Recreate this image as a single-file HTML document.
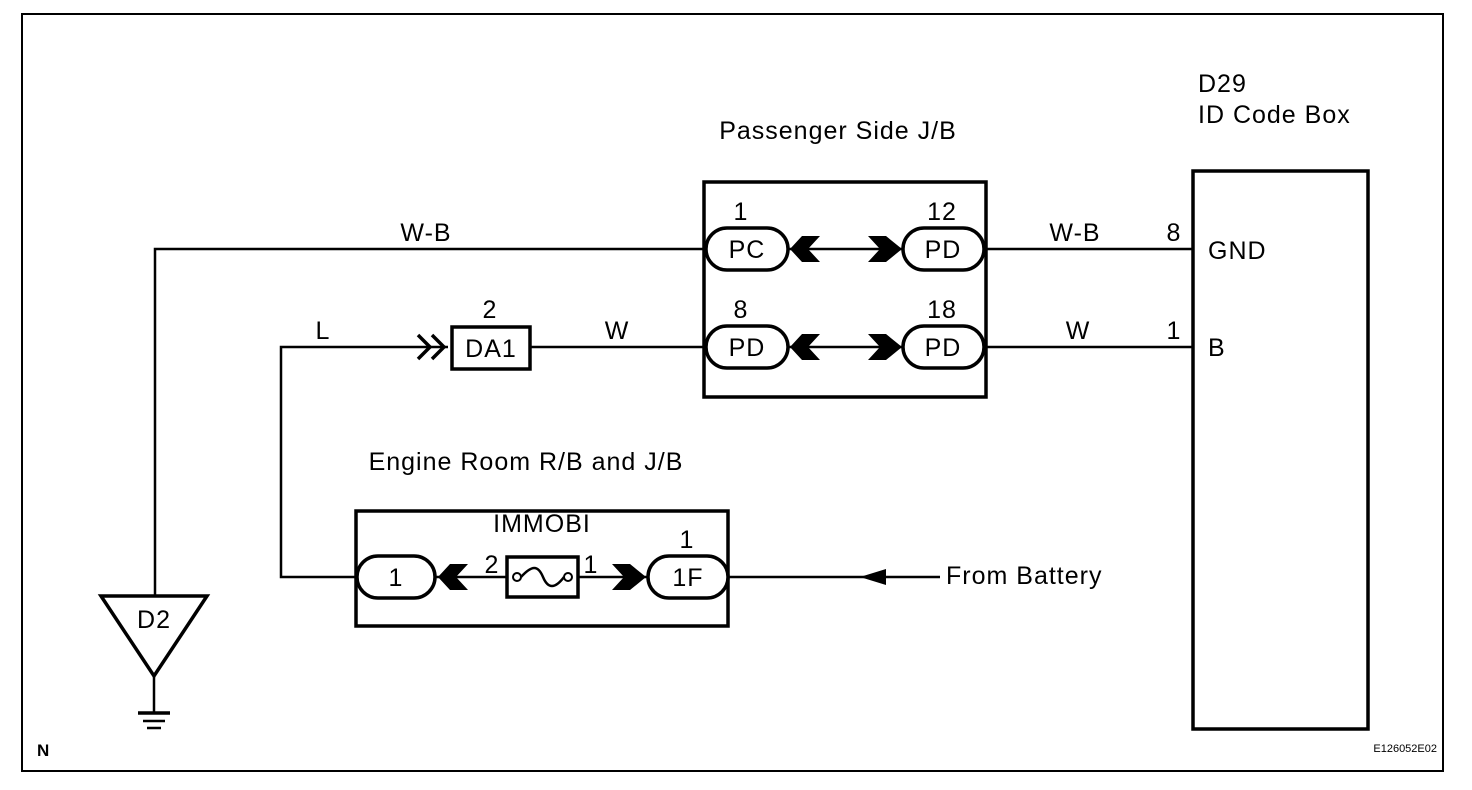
<!DOCTYPE html>
<html><head><style>
html,body{margin:0;padding:0;background:#fff;}
svg{display:block;}
text{font-family:"Liberation Sans",Arial,sans-serif;fill:#000;}
</style></head><body>
<svg width="1472" height="790" viewBox="0 0 1472 790" xmlns="http://www.w3.org/2000/svg">
<rect x="0" y="0" width="1472" height="790" fill="#fff"/>
<rect x="22" y="14" width="1421" height="757" fill="none" stroke="#000" stroke-width="2"/>

<g stroke="#000" fill="none">
<polyline points="706,249 155,249 155,596" stroke-width="2.5"/>
<line x1="984" y1="249" x2="1193" y2="249" stroke-width="2.5"/>
<line x1="530" y1="347" x2="706" y2="347" stroke-width="2.5"/>
<line x1="984" y1="347" x2="1193" y2="347" stroke-width="2.5"/>
<polyline points="448,347 281,347 281,577 357,577" stroke-width="2.5"/>
<line x1="728" y1="577" x2="940" y2="577" stroke-width="2.5"/>
<line x1="788" y1="249" x2="903" y2="249" stroke-width="2.5"/>
<line x1="788" y1="347" x2="903" y2="347" stroke-width="2.5"/>
<line x1="435" y1="577" x2="507" y2="577" stroke-width="2.5"/>
<line x1="578" y1="577" x2="648" y2="577" stroke-width="2.5"/>

<rect x="704" y="182" width="282" height="215" stroke-width="3.5"/>
<rect x="706" y="228" width="82" height="42" rx="21" stroke-width="3.5" fill="#fff"/>
<rect x="903" y="228" width="81" height="42" rx="21" stroke-width="3.5" fill="#fff"/>
<rect x="706" y="326" width="82" height="42" rx="21" stroke-width="3.5" fill="#fff"/>
<rect x="903" y="326" width="81" height="42" rx="21" stroke-width="3.5" fill="#fff"/>

<rect x="1193" y="171" width="175" height="558" stroke-width="3.5"/>

<rect x="452" y="327" width="78" height="42" stroke-width="3.5" fill="#fff"/>
<polyline points="418,335 430,347 418,359" stroke-width="3.5"/>
<polyline points="432,335 444,347 432,359" stroke-width="3.5"/>

<rect x="356" y="511" width="372" height="115" stroke-width="3.5"/>
<rect x="357" y="556" width="78" height="42" rx="21" stroke-width="3.5" fill="#fff"/>
<rect x="648" y="556" width="80" height="42" rx="21" stroke-width="3.5" fill="#fff"/>
<rect x="507" y="557" width="71" height="40" stroke-width="3.5" fill="#fff"/>
<circle cx="517" cy="577" r="4" stroke-width="2"/>
<circle cx="568" cy="577" r="4" stroke-width="2"/>
<path d="M521,577 C532,565 538,565 543,577 S555,589 564,577" stroke-width="2.5"/>

<polygon points="101,596 207,596 154,676" stroke-width="3.5"/>
<line x1="154" y1="676" x2="154" y2="713" stroke-width="2.5"/>
<line x1="138" y1="713" x2="170" y2="713" stroke-width="3.5"/>
<line x1="143" y1="721" x2="165" y2="721" stroke-width="2.5"/>
<line x1="147" y1="728" x2="161" y2="728" stroke-width="2.5"/>
</g>

<g fill="#000">
<polygon points="790,249 802,236 820,236 808,249 820,262 802,262"/>
<polygon points="868,236 886,236 902,249 886,262 868,262 880,249"/>
<polygon points="790,347 802,334 820,334 808,347 820,360 802,360"/>
<polygon points="868,334 886,334 902,347 886,360 868,360 880,347"/>
<polygon points="438,577 450,564 468,564 456,577 468,590 450,590"/>
<polygon points="612,564 630,564 646,577 630,590 612,590 624,577"/>
<polygon points="860,577 886,569 886,585"/>
</g>

<g font-size="25" letter-spacing="1">
<text x="838" y="139" text-anchor="middle">Passenger Side J/B</text>
<text x="1198" y="92">D29</text>
<text x="1198" y="123">ID Code Box</text>
<text x="1208" y="259">GND</text>
<text x="1208" y="356">B</text>
<text x="526" y="470" text-anchor="middle">Engine Room R/B and J/B</text>
<text x="946" y="584">From Battery</text>
<text x="542" y="532" text-anchor="middle">IMMOBI</text>
<text x="426" y="241" text-anchor="middle">W-B</text>
<text x="1075" y="241" text-anchor="middle">W-B</text>
<text x="617" y="339" text-anchor="middle">W</text>
<text x="1078" y="339" text-anchor="middle">W</text>
<text x="323" y="339" text-anchor="middle">L</text>
<text x="1174" y="241" text-anchor="middle">8</text>
<text x="1174" y="339" text-anchor="middle">1</text>
<text x="741" y="220" text-anchor="middle">1</text>
<text x="942" y="220" text-anchor="middle">12</text>
<text x="741" y="318" text-anchor="middle">8</text>
<text x="942" y="318" text-anchor="middle">18</text>
<text x="490" y="318" text-anchor="middle">2</text>
<text x="687" y="548" text-anchor="middle">1</text>
<text x="747" y="258" text-anchor="middle">PC</text>
<text x="943" y="258" text-anchor="middle">PD</text>
<text x="747" y="356" text-anchor="middle">PD</text>
<text x="943" y="356" text-anchor="middle">PD</text>
<text x="491" y="357" text-anchor="middle">DA1</text>
<text x="396" y="586" text-anchor="middle">1</text>
<text x="688" y="586" text-anchor="middle">1F</text>
<text x="492" y="573" text-anchor="middle">2</text>
<text x="591" y="573" text-anchor="middle">1</text>
<text x="154" y="628" text-anchor="middle">D2</text>
</g>
<text x="37" y="756" font-size="17" font-weight="bold">N</text>
<text x="1437" y="752" font-size="11" text-anchor="end">E126052E02</text>
</svg>
</body></html>
